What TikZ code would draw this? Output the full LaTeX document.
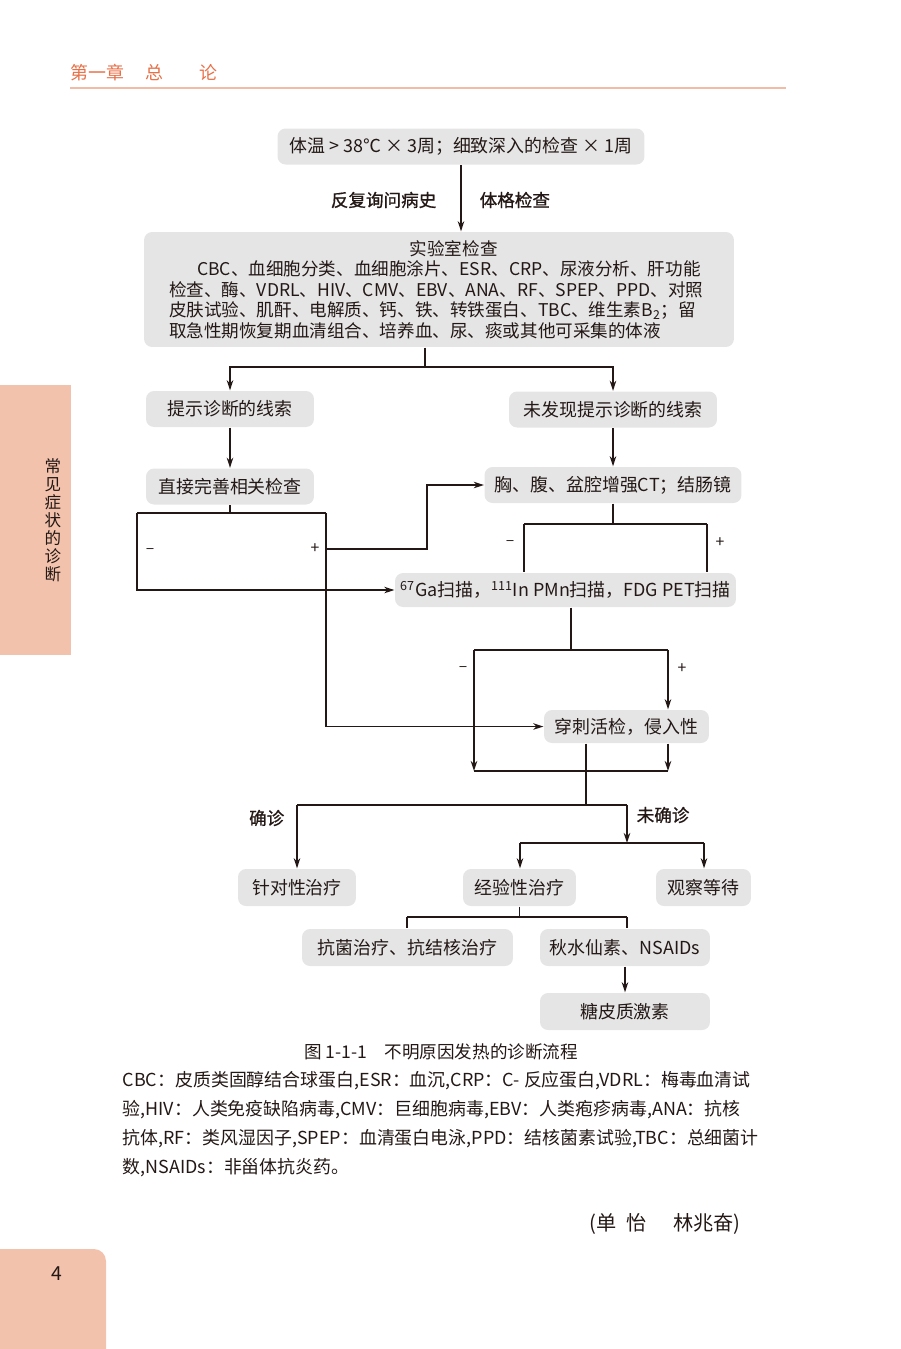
\documentclass[tikz,border=0pt]{standalone}
\usepackage{fontspec}
\setmainfont{Noto Sans CJK SC}
\newfontfamily\medium[FakeBold=0.9]{Noto Sans CJK SC}
\usetikzlibrary{arrows.meta}
\definecolor{boxgray}{RGB}{229,229,230}
\definecolor{ink}{RGB}{35,24,21}
\definecolor{tabpink}{RGB}{242,194,172}
\definecolor{headred}{RGB}{231,112,72}
\definecolor{headline}{RGB}{243,187,165}

\begin{document}
\begin{tikzpicture}[x=0.02cm,y=-0.02cm,color=ink,line width=0.8pt,
				>={Stealth[length=0.2cm,width=0.13cm,inset=0.06cm]},
				main node/.style = {fill=boxgray,rounded corners=0.16cm,inner sep=0pt,minimum height=0.72cm,font=\fontsize{10.2pt}{12pt}\selectfont},
				tag/.style = {inner sep=0pt,font=\fontsize{10pt}{12pt}\medium},
				sign/.style = {inner sep=0pt,font=\fontsize{9pt}{10pt}\selectfont}]
				
				\useasboundingbox (0,0) rectangle (900,1349);
				
				\node[anchor=west,inner sep=0pt,text=headred,font=\fontsize{10.2pt}{12pt}\selectfont] (30) at (70,73) {第一章\hspace{1.2em}总\hspace{2em}论};
				\draw[headline,line width=1.1pt] (70,88) -- (786,88);
				\fill[tabpink] (0,385) rectangle (71,655);
				\node[align=center,inner sep=0pt,font=\fontsize{9.4pt}{10.2pt}\selectfont] (31) at (53,520.5) {常\\见\\症\\状\\的\\诊\\断};
				\fill[tabpink] (0,1349) -- (0,1249) [rounded corners=0.24cm] -- (106,1249) [sharp corners] -- (106,1349) -- cycle;
				\node[font=\fontsize{11pt}{12pt}\selectfont] (32) at (57,1274) {4};
				
				\node[main node,minimum width=7.34cm] (1) at (461,146.5) {体温 > 38℃ × 3周；细致深入的检查 × 1周};
				\node[main node,minimum width=11.8cm,minimum height=2.3cm,text width=10.8cm,align=left,font=\fontsize{10pt}{11.7pt}\selectfont] (2) at (439,289.5) {\hspace*{13.7em}实验室检查\\
				\hspace*{1.6em}CBC、血细胞分类、血细胞涂片、ESR、CRP、尿液分析、肝功能\\
				检查、酶、VDRL、HIV、CMV、EBV、ANA、RF、SPEP、PPD、对照\\
				皮肤试验、肌酐、电解质、钙、铁、转铁蛋白、TBC、维生素B\textsubscript{2}；留\\
				取急性期恢复期血清组合、培养血、尿、痰或其他可采集的体液};
				\node[main node,minimum width=3.36cm] (3) at (230,409) {提示诊断的线索};
				\node[main node,minimum width=4.16cm] (4) at (613,409.5) {未发现提示诊断的线索};
				\node[main node,minimum width=3.36cm] (5) at (230,486.5) {直接完善相关检查};
				\node[main node,minimum width=5.14cm] (6) at (613,485) {胸、腹、盆腔增强CT；结肠镜};
				\node[main node,minimum width=6.82cm,minimum height=0.68cm] (7) at (565.5,590) {\textsuperscript{67}Ga扫描，\textsuperscript{111}In PMn扫描，FDG PET扫描};
				\node[main node,minimum width=3.3cm,minimum height=0.66cm] (8) at (626.5,726.5) {穿刺活检，侵入性};
				\node[main node,minimum width=2.36cm,minimum height=0.74cm] (9) at (297,887.5) {针对性治疗};
				\node[main node,minimum width=2.26cm,minimum height=0.74cm] (10) at (519.5,887.5) {经验性治疗};
				\node[main node,minimum width=1.9cm,minimum height=0.74cm] (11) at (703.5,887.5) {观察等待};
				\node[main node,minimum width=4.22cm,minimum height=0.74cm] (12) at (407.5,947.5) {抗菌治疗、抗结核治疗};
				\node[main node,minimum width=3.4cm,minimum height=0.74cm] (13) at (625,947.5) {秋水仙素、NSAIDs};
				\node[main node,minimum width=3.4cm,minimum height=0.74cm] (14) at (625,1011.5) {糖皮质激素};
				
				\draw[->] (1.south) -- (1.south |- 2.north);
				\node[tag,anchor=east] (15) at (437,200) {反复询问病史};
				\node[tag,anchor=west] (16) at (479,200) {体格检查};
				
				\coordinate (a1) at (425,367);
				\draw (a1 |- 2.south) -- (a1);
				\draw[->] (a1) -| (3.north);
				\draw[->] (a1) -| (4.north);
				\draw[->] (3) -- (5);
				\draw[->] (4) -- (6);
				
				\coordinate (b1) at (137,513);
				\coordinate (b2) at (326,513);
				\coordinate (b3) at (326,549);
				\draw (5.south) -- (5.south |- b1);
				\draw (b1) -- (b2);
				\draw[->] (b1) |- (7.west);
				\draw[->] (b2) |- (8.west);
				\draw[->] (b3) -- ++(101,0) |- (6.west);
				\node[sign] (17) at (150,551) {--};
				\node[sign] (18) at (315,549) {+};
				
				\coordinate (c1) at (524,524);
				\coordinate (c2) at (707,524);
				\draw (6.south) -- (6.south |- c1);
				\draw (c1) -- (c2);
				\draw (c1) -- (c1 |- 7.north);
				\draw (c2) -- (c2 |- 7.north);
				\node[sign] (19) at (510,543) {--};
				\node[sign] (20) at (720,543) {+};
				
				\coordinate (d0) at (571,650);
				\coordinate (d1) at (474,650);
				\coordinate (d2) at (668,650);
				\coordinate (e1) at (474,771);
				\coordinate (e2) at (668,771);
				\draw (d0 |- 7.south) -- (d0);
				\draw (d1) -- (d2);
				\draw[->] (d2) -- (d2 |- 8.north);
				\draw[->] (d1) -- (e1);
				\draw[->] (e2 |- 8.south) -- (e2);
				\draw (e1) -- (e2);
				\node[sign] (21) at (463,669) {--};
				\node[sign] (22) at (682,669) {+};
				
				\coordinate (f0) at (586,805);
				\coordinate (f1) at (297,805);
				\coordinate (f2) at (627,805);
				\coordinate (g0) at (627,843);
				\coordinate (g1) at (520,843);
				\coordinate (g2) at (704,843);
				\draw (f0 |- 8.south) -- (f0);
				\draw (f1) -- (f2);
				\draw[->] (f1) -- (9.north);
				\draw[->] (f2) -- (g0);
				\draw (g1) -- (g2);
				\draw[->] (g1) -- (g1 |- 10.north);
				\draw[->] (g2) -- (g2 |- 11.north);
				\node[tag,anchor=east] (23) at (285,818) {确诊};
				\node[tag,anchor=west] (24) at (636,815) {未确诊};
				
				\coordinate (h1) at (407,917);
				\coordinate (h2) at (627,917);
				\draw (10.south) -- (10.south |- h1);
				\draw (h1) -- (h2);
				\draw (h1) -- (h1 |- 12.north);
				\draw (h2) -- (h2 |- 13.north);
				\draw[->] (13) -- (14);
				
				\node[font=\fontsize{10pt}{12pt}\selectfont] (34) at (441,1052) {图 1-1-1\hspace{1em}不明原因发热的诊断流程};
				\node[anchor=west,align=left,inner sep=0pt,font=\fontsize{10.2pt}{16.5pt}\selectfont] (35) at (122,1124.5) {CBC：皮质类固醇结合球蛋白,ESR：血沉,CRP：C- 反应蛋白,VDRL：梅毒血清试\\
				验,HIV：人类免疫缺陷病毒,CMV：巨细胞病毒,EBV：人类疱疹病毒,ANA：抗核\\
				抗体,RF：类风湿因子,SPEP：血清蛋白电泳,PPD：结核菌素试验,TBC：总细菌计\\
				数,NSAIDs：非甾体抗炎药。};
				\node[anchor=east,font=\fontsize{11.5pt}{12pt}\selectfont] (33) at (747,1224) {(单\hspace{0.5em}怡\hspace{1.3em}林兆奋)};
				
				\end{tikzpicture}
\end{document}
